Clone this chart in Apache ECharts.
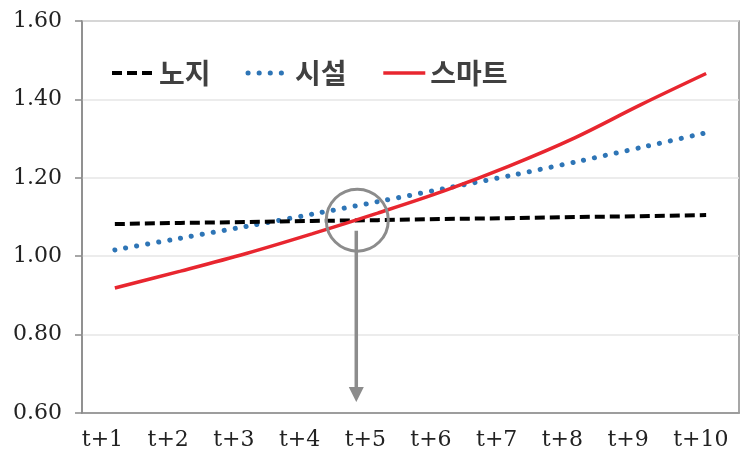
<!DOCTYPE html>
<html>
<head>
<meta charset="utf-8">
<script src="https://cdn.jsdelivr.net/npm/echarts@6/dist/echarts.min.js"></script>
<style>
html,body{margin:0;padding:0;background:#fff;}
#main{width:741px;height:451px;}
</style>
</head>
<body>
<div id="main"></div>
<script>
const categories = ['t+1','t+2','t+3','t+4','t+5','t+6','t+7','t+8','t+9','t+10'];
const seriesNames = ['노지','시설','스마트'];
const openField = [1.082,1.085,1.087,1.090,1.092,1.095,1.097,1.100,1.102,1.105];
const greenhouse = [1.016,1.046,1.076,1.107,1.139,1.172,1.205,1.240,1.277,1.315];
const smart = [0.919,0.962,1.007,1.057,1.110,1.166,1.230,1.302,1.386,1.466];
const yTicks = [0.6, 0.8, 1.0, 1.2, 1.4, 1.6];
// annotation: crossing point (fractional category index, value) and arrow end value
const focusPoint = [3.69, 1.092];
const arrowStartValue = 1.065;
const arrowEndValue = 0.628;

const chart = echarts.init(document.getElementById('main'), null, {renderer:'canvas'});
const serif = 'DejaVu Serif';
const option = {
  backgroundColor:'#fff',
  animation:false,
  grid:{left:82,right:2,top:21,bottom:38,show:true,borderColor:'#8a8a8a',borderWidth:1.5,backgroundColor:'transparent'},
  legend:{
    left:105, top:54,
    itemWidth:42, itemHeight:14, itemGap:35,
    data:seriesNames,
    itemStyle:{opacity:0},
    lineStyle:{width:'inherit'},
    textStyle:{fontFamily:'Noto Sans CJK KR',fontSize:28,fontWeight:'bold',color:'#404040'}
  },
  xAxis:{
    type:'category', data:categories, boundaryGap:true,
    axisLine:{lineStyle:{color:'#8a8a8a',width:1.5}},
    axisTick:{show:false},
    axisLabel:{fontFamily:serif,fontSize:22,color:'#222',margin:16,align:'left',padding:[0,0,0,-33],interval:0}
  },
  yAxis:{
    type:'value', min:yTicks[0], max:yTicks[yTicks.length-1], interval:0.2,
    axisLine:{show:true,lineStyle:{color:'#8a8a8a',width:1.5}},
    axisTick:{show:true,length:7,lineStyle:{color:'#8a8a8a',width:1.5}},
    axisLabel:{fontFamily:serif,fontSize:22,color:'#222',margin:20,formatter:v=>v.toFixed(2)},
    splitLine:{lineStyle:{color:'#e6e6e6',width:1.5}}
  },
  series:[
    {name:seriesNames[0],type:'line',data:openField,symbol:'none',z:3,
      lineStyle:{color:'#000',width:4,type:[10,5]},itemStyle:{color:'#000'}},
    {name:seriesNames[1],type:'line',data:greenhouse,symbol:'none',z:2,smooth:0.2,
      lineStyle:{color:'#2e75b6',width:5,type:[0.1,11],cap:'round'},itemStyle:{color:'#2e75b6'}},
    {name:seriesNames[2],type:'line',data:smart,symbol:'none',z:4,smooth:0.35,
      lineStyle:{color:'#e8262f',width:3.5},itemStyle:{color:'#e8262f'}}
  ]
};
chart.setOption(option);

function px(idx, val){
  const i0 = Math.floor(idx), f = idx - i0;
  const a = chart.convertToPixel({gridIndex:0},[categories[i0], val]);
  const b = chart.convertToPixel({gridIndex:0},[categories[i0+1], val]);
  return [a[0] + (b[0]-a[0])*f, a[1]];
}
const c = px(focusPoint[0], focusPoint[1]);
const s = px(focusPoint[0], arrowStartValue);
const e = px(focusPoint[0], arrowEndValue);
const gray = '#8c8c8c';
chart.setOption({
  graphic:[
    {type:'circle',shape:{cx:c[0],cy:c[1],r:31},style:{fill:'none',stroke:gray,lineWidth:3},z:100},
    {type:'line',shape:{x1:s[0]-1,y1:s[1],x2:s[0]-1,y2:e[1]-13},style:{stroke:gray,lineWidth:3.5},z:100},
    {type:'polygon',shape:{points:[[s[0]-1-7.5,e[1]-15],[s[0]-1+7.5,e[1]-15],[s[0]-1,e[1]]]},style:{fill:gray},z:100}
  ]
});
</script>
</body>
</html>
